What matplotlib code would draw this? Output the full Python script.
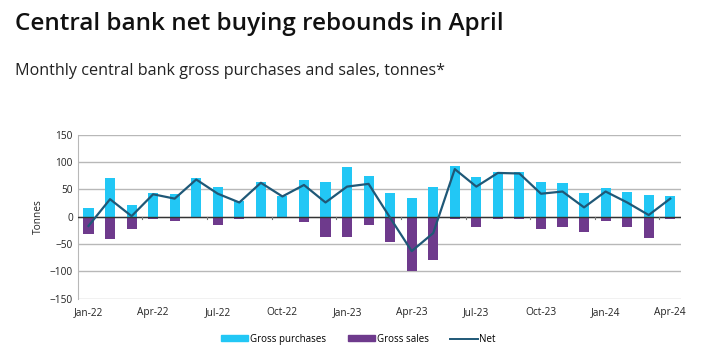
import matplotlib.pyplot as plt
import matplotlib.patches as mpatches
import matplotlib.lines as mlines
import numpy as np

plt.rcParams['font.family'] = ['Open Sans', 'DejaVu Sans']

months = ["Jan-22", "Feb-22", "Mar-22", "Apr-22", "May-22", "Jun-22", "Jul-22",
          "Aug-22", "Sep-22", "Oct-22", "Nov-22", "Dec-22", "Jan-23", "Feb-23",
          "Mar-23", "Apr-23", "May-23", "Jun-23", "Jul-23", "Aug-23", "Sep-23",
          "Oct-23", "Nov-23", "Dec-23", "Jan-24", "Feb-24", "Mar-24", "Apr-24"]
gross_purchases = [15, 71, 22, 44, 41, 70, 55, 28, 64, 37, 67, 64, 90, 74,
                   44, 35, 54, 93, 73, 82, 82, 63, 62, 44, 52, 45, 40, 37]
gross_sales = [-31, -40, -22, -4, -8, -2, -15, -4, -2, -2, -10, -37, -37, -15,
               -46, -100, -80, -5, -19, -4, -4, -22, -18, -28, -8, -18, -39, -5]
net = [-17, 32, 1, 41, 33, 68, 42, 26, 62, 37, 58, 26, 55, 60,
       -2, -63, -30, 87, 55, 80, 79, 42, 46, 17, 46, 26, 3, 33]

c_buy = "#22c7f5"
c_sell = "#6e3a8c"
c_net = "#1f5877"

fig = plt.figure(figsize=(7.17, 3.56), dpi=100)
ax = fig.add_axes([0.1084, 0.161, 0.8414, 0.4607])

x = np.arange(len(months))
ax.bar(x, gross_purchases, width=0.47, color=c_buy, zorder=2)
ax.bar(x, gross_sales, width=0.47, color=c_sell, zorder=2)
ax.axhline(0, color="#333333", lw=1, zorder=3)
ax.plot(x, net, color=c_net, lw=1.6, zorder=4)

# boundary ticks on the zero line
for b in np.arange(2.5, len(months) - 1, 3):
    ax.plot([b, b], [0, -4], color="#777777", lw=0.8, zorder=3)

ax.set_xlim(-0.5, len(months) - 0.5)
ax.set_ylim(-150, 150)
ax.set_yticks(range(-150, 151, 50))
ax.yaxis.grid(True, color="#b8b8b8", lw=1)
ax.set_axisbelow(True)
ax.set_xticks(x[::3])
ax.set_xticklabels(months[::3])
ax.tick_params(axis="both", length=0, labelsize=7.3, colors="#222222")
ax.tick_params(axis="x", pad=6)
for s in ["top", "right", "bottom"]:
    ax.spines[s].set_visible(False)
ax.spines["left"].set_color("#b8b8b8")
ax.set_ylabel("Tonnes", fontsize=7.3, color="#222222", labelpad=4)

fig.text(0.021, 0.915, "Central bank net buying rebounds in April",
         fontsize=17.5, fontweight="semibold", color="#111111")
fig.text(0.021, 0.79, "Monthly central bank gross purchases and sales, tonnes*",
         fontsize=11.6, color="#222222")

handles = [mpatches.Patch(color=c_buy, label="Gross purchases"),
           mpatches.Patch(color=c_sell, label="Gross sales"),
           mlines.Line2D([], [], color=c_net, lw=1.4, label="Net")]
fig.legend(handles=handles, loc="center", bbox_to_anchor=(0.5, 0.047), ncol=3,
           frameon=False, fontsize=7, handlelength=2.8, handleheight=0.6,
           handletextpad=0.2, columnspacing=2.2)

fig.savefig("out.png", dpi=100)
